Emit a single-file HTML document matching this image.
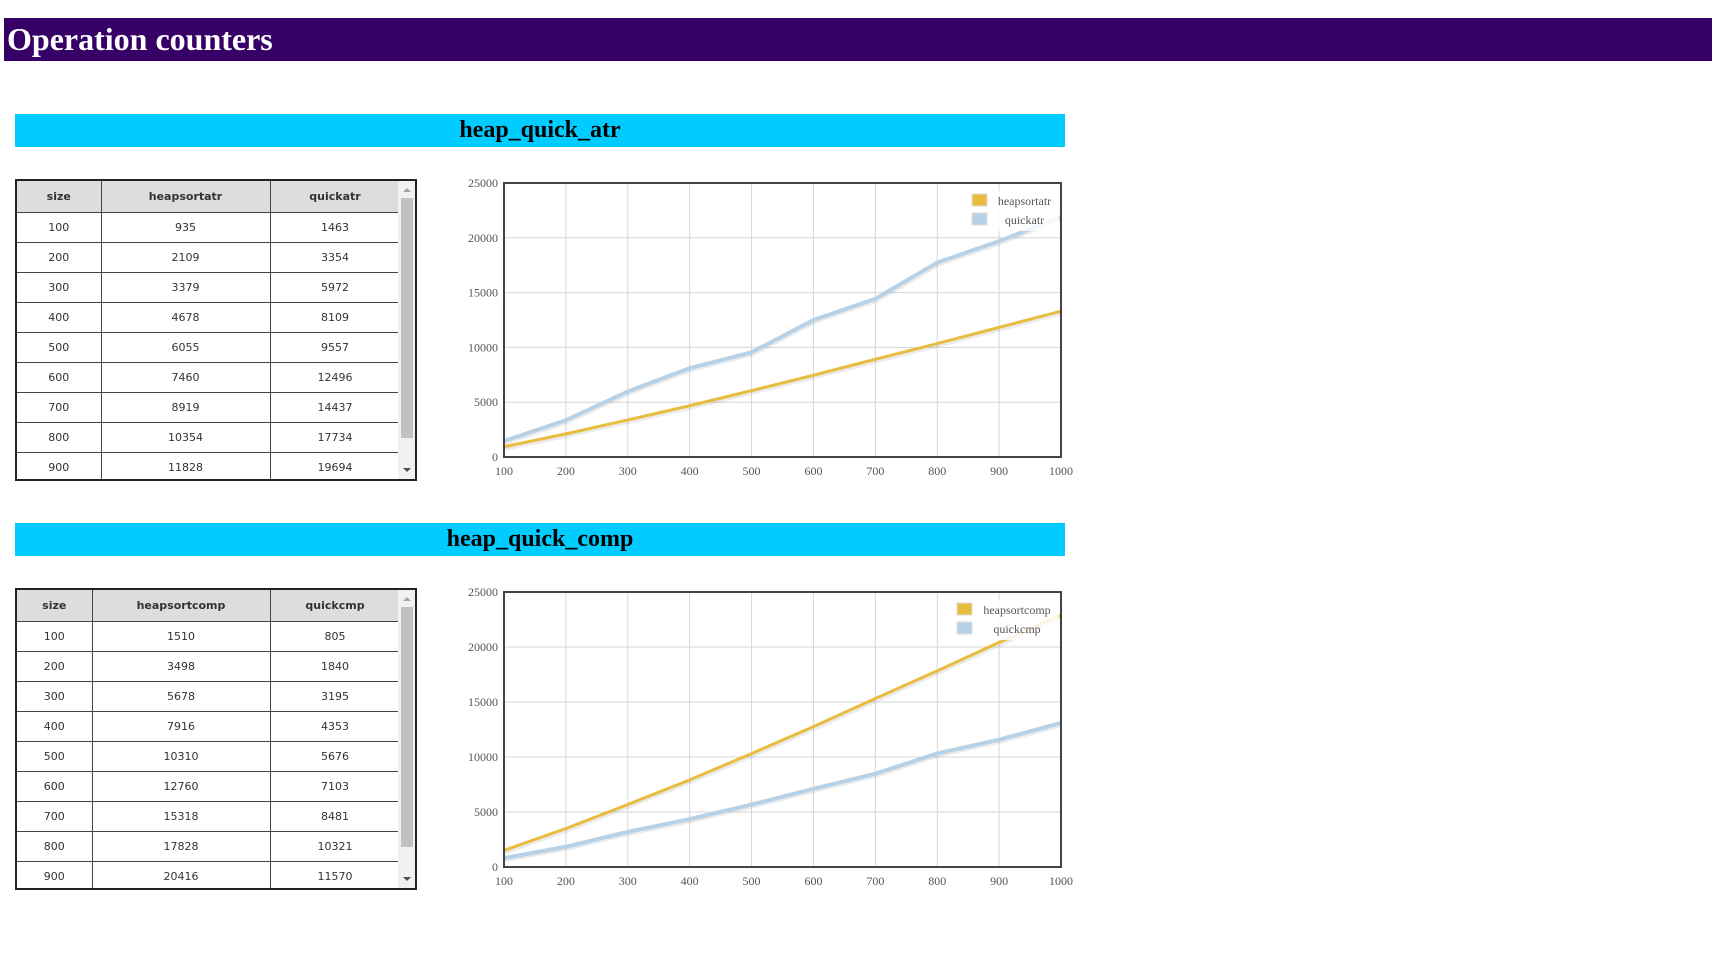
<!DOCTYPE html>
<html><head><meta charset="utf-8">
<style>
body{margin:0;width:1712px;height:959px;background:#fff;position:relative;overflow:hidden;font-family:"DejaVu Sans","Liberation Sans",sans-serif}
.topbar{position:absolute;left:4px;top:18px;width:1708px;height:43px;background:#360066;color:#fff;font:bold 32px "Liberation Serif",serif;line-height:43px;padding-left:3px;box-sizing:border-box}
.sec{position:absolute;left:15px;width:1050px;height:33px;background:#00ccff;font:bold 24px "Liberation Serif",serif;line-height:33px;text-align:center;color:#000}
.tw{position:absolute;left:15px;width:402px;border:2px solid #222;box-sizing:border-box;background:#fff;overflow:hidden}
.tw table{border-collapse:collapse;font-size:11px;color:#333;table-layout:fixed}
.tw th{background:#ddd;height:31px;font-weight:bold;border-right:1px solid #444;border-bottom:1px solid #444;padding:0}
.tw td{height:29px;text-align:center;border-right:1px solid #444;border-bottom:1px solid #444;padding:0}
.sb{position:absolute;right:0;top:0;width:17px;bottom:0;background:#f1f1f1}
.sb .th{position:absolute;left:3px;right:2px;background:#c1c1c1}
.sb .up,.sb .dn{position:absolute;left:5px;width:0;height:0;border-left:4px solid transparent;border-right:4px solid transparent}
.sb .up{top:7px;border-bottom:4px solid #a3a3a3}
.sb .dn{bottom:7px;border-top:4px solid #505050}
svg text{font-family:"Liberation Serif",serif}
</style></head><body>
<div class="topbar">Operation counters</div>

<div class="sec" style="top:114px">heap_quick_atr</div>
<div class="tw" style="top:179px;height:302px">
<table>
<colgroup><col style="width:84px"><col style="width:169px"><col style="width:130px"></colgroup>
<tr><th>size</th><th>heapsortatr</th><th>quickatr</th></tr>
<tr><td>100</td><td>935</td><td>1463</td></tr>
<tr><td>200</td><td>2109</td><td>3354</td></tr>
<tr><td>300</td><td>3379</td><td>5972</td></tr>
<tr><td>400</td><td>4678</td><td>8109</td></tr>
<tr><td>500</td><td>6055</td><td>9557</td></tr>
<tr><td>600</td><td>7460</td><td>12496</td></tr>
<tr><td>700</td><td>8919</td><td>14437</td></tr>
<tr><td>800</td><td>10354</td><td>17734</td></tr>
<tr><td>900</td><td>11828</td><td>19694</td></tr>
</table>
<div class="sb"><div class="up"></div><div class="th" style="top:17px;height:240px"></div><div class="dn"></div></div>
</div>
<svg id="c1" style="position:absolute;left:0;top:0" width="1712" height="959"></svg>

<div class="sec" style="top:523px">heap_quick_comp</div>
<div class="tw" style="top:588px;height:302px">
<table>
<colgroup><col style="width:75px"><col style="width:178px"><col style="width:130px"></colgroup>
<tr><th>size</th><th>heapsortcomp</th><th>quickcmp</th></tr>
<tr><td>100</td><td>1510</td><td>805</td></tr>
<tr><td>200</td><td>3498</td><td>1840</td></tr>
<tr><td>300</td><td>5678</td><td>3195</td></tr>
<tr><td>400</td><td>7916</td><td>4353</td></tr>
<tr><td>500</td><td>10310</td><td>5676</td></tr>
<tr><td>600</td><td>12760</td><td>7103</td></tr>
<tr><td>700</td><td>15318</td><td>8481</td></tr>
<tr><td>800</td><td>17828</td><td>10321</td></tr>
<tr><td>900</td><td>20416</td><td>11570</td></tr>
</table>
<div class="sb"><div class="up"></div><div class="th" style="top:17px;height:240px"></div><div class="dn"></div></div>
</div>
<svg id="c2" style="position:absolute;left:0;top:0;pointer-events:none" width="1712" height="959"></svg>

<script>
const sizes=[100,200,300,400,500,600,700,800,900,1000];
const heapsortatr=[935,2109,3379,4678,6055,7460,8919,10354,11828,13300];
const quickatr=[1463,3354,5972,8109,9557,12496,14437,17734,19694,21900];
const heapsortcomp=[1510,3498,5678,7916,10310,12760,15318,17828,20416,22900];
const quickcmp=[805,1840,3195,4353,5676,7103,8481,10321,11570,13100];
const yTicks=[0,5000,10000,15000,20000,25000];
const xTicks=[100,200,300,400,500,600,700,800,900,1000];
const NS='http://www.w3.org/2000/svg';
function mk(svg,tag,attrs){const e=document.createElementNS(NS,tag);for(const k in attrs)e.setAttribute(k,attrs[k]);svg.appendChild(e);return e;}
function draw(id,top,bottom,series,names,legX){
  const svg=document.getElementById(id);
  svg.style.pointerEvents='none';
  const L=504,R=1061;
  const xs=v=>L+(v-100)/900*(R-L);
  const ys=v=>bottom-v/25000*(bottom-top);
  xTicks.forEach(t=>{
    const g=mk(svg,'line',{x1:xs(t),x2:xs(t),y1:top,y2:bottom,stroke:'#d6d6d6','stroke-width':1});
    
    
    const tx=mk(svg,'text',{x:xs(t),y:bottom+18,'text-anchor':'middle','font-size':12,fill:'#555'});
    tx.textContent=t;
    
    
  });
  yTicks.forEach(t=>{
    const g=mk(svg,'line',{x1:L,x2:R,y1:ys(t),y2:ys(t),stroke:'#d6d6d6','stroke-width':1});
    
    
    const tx=mk(svg,'text',{x:L-6,y:ys(t)+4,'text-anchor':'end','font-size':12,fill:'#555'});
    tx.textContent=t;
    
    
  });
  const cols=['#e8bd3f','#b7d1e6'];
  series.forEach((s,i)=>{
    const pts=s.map((v,j)=>xs(sizes[j])+','+ys(v)).join(' ');
    const sh=mk(svg,'polyline',{points:pts,fill:'none',stroke:'rgba(0,0,0,0.08)','stroke-width':4,transform:'translate(1,2)','stroke-linejoin':'round'});
    
    
    const p=mk(svg,'polyline',{points:pts,fill:'none',stroke:cols[i],'stroke-width':i==0?3:4,'stroke-linejoin':'round'});
    
    
  });
  const lb=mk(svg,'rect',{x:legX-4,y:top+8,width:R-legX+2,height:40,fill:'rgba(255,255,255,0.85)'});
  
  
  names.forEach((n,i)=>{
    const y=top+11+i*19;
    const r=mk(svg,'rect',{x:legX,y:y,width:15,height:12,fill:cols[i],stroke:'#ddd','stroke-width':1});
    
    
    const t=mk(svg,'text',{x:(legX+22+R-6)/2,y:y+11,'text-anchor':'middle','font-size':12,fill:'#555'});
    t.textContent=n;
    
    
  });
  const b=mk(svg,'rect',{x:L,y:top,width:R-L,height:bottom-top,fill:'none',stroke:'#444','stroke-width':2});
  
  
}
draw('c1',183,457,[heapsortatr,quickatr],['heapsortatr','quickatr'],972);
draw('c2',592,867,[heapsortcomp,quickcmp],['heapsortcomp','quickcmp'],957);
</script>
</body></html>
